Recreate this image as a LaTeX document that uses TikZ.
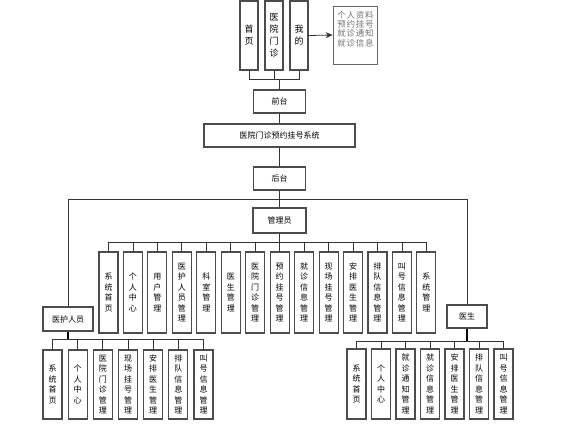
\documentclass[tikz,border=0pt]{standalone}
\usepackage{fontspec}
\setmainfont{Noto Sans CJK SC}
\usetikzlibrary{arrows.meta}
\begin{document}
\begin{tikzpicture}[x=1pt,y=-1pt,
  box/.style={draw=black!70, line width=1.1pt, inner sep=0pt, align=center,
    font=\fontsize{8}{10.5}\selectfont},
  topbox/.style={box, minimum width=18, minimum height=69,
    font=\fontsize{9}{12}\selectfont},
  hbox/.style={box, minimum height=23},
  vbox/.style={box, minimum width=19},
  ln/.style={draw=black!80, line width=0.8pt},
  boldln/.style={draw=black, line width=1.6pt}]
\useasboundingbox (0,0) rectangle (570,431);

% top row
\node[topbox] (home) at (249,35.5) {首\\页};
\node[topbox] (clinic) at (274,35.5) {医\\院\\门\\诊};
\node[topbox] (me) at (299,35.5) {我\\的};
\node[draw=black!60, line width=0.8pt, minimum width=44, minimum height=58, inner sep=0pt] (side) at (355,35) {};
\node[align=center, inner sep=0pt, text=black!55, font=\fontsize{8.5}{9.3}\selectfont\addfontfeature{LetterSpace=8}] (sidetxt) at (355.5,29) {个人资料\\预约挂号\\就诊通知\\就诊信息};
\draw[ln,-{Stealth[length=7pt,width=6pt]}] (me.east) -- (side.west);

\coordinate (tb) at (0,79);
\node[hbox, minimum width=52] (front) at (279.5,101.5) {前台};
\draw[ln] (home.south) -- (home.south |- tb) -- (me.south |- tb) -- (me.south);
\draw[ln] (clinic.south) -- (clinic.south |- tb);
\draw[ln] (front.north) -- (front.north |- tb);

\node[hbox, minimum width=151] (sys) at (279.5,135.5) {医院门诊预约挂号系统};
\node[hbox, minimum width=52] (back) at (279.5,178.5) {后台};
\draw[ln] (front) -- (sys);
\draw[ln] (sys) -- (back);

\coordinate (mb) at (0,199.5);
\node[box, minimum width=53, minimum height=25] (mgr) at (279.5,220.5) {管理员};
\node[box, minimum width=50, minimum height=24] (nurse) at (68,319) {医护人员};
\node[hbox, minimum width=40] (doc) at (467,316.5) {医生};
\draw[ln] (back.south) -- (mgr.north);
\draw[ln] (nurse.north) -- (nurse.north |- mb) -- (doc.north |- mb) -- (doc.north);

% admin children
\foreach \t [count=\i] in {{系\\统\\首\\页},{个\\人\\中\\心},{用\\户\\管\\理},{医\\护\\人\\员\\管\\理},{科\\室\\管\\理},{医\\生\\管\\理},{医\\院\\门\\诊\\管\\理},{预\\约\\挂\\号\\管\\理},{就\\诊\\信\\息\\管\\理},{现\\场\\挂\\号\\管\\理},{安\\排\\医\\生\\管\\理},{排\\队\\信\\息\\管\\理},{叫\\号\\信\\息\\管\\理},{系\\统\\管\\理}}
  \node[vbox, minimum height=81] (a\i) at ({108.5+24.45*(\i-1)},292.5) {\t};
\coordinate (ab) at (0,242);
\draw[ln] (mgr.south) -- (mgr.south |- ab);
\draw[ln] (a1.north |- ab) -- (a14.north |- ab);
\foreach \i in {1,...,14} \draw[ln] (a\i.north) -- (a\i.north |- ab);

% nurse children
\foreach \t [count=\i] in {{系\\统\\首\\页},{个\\人\\中\\心},{医\\院\\门\\诊\\管\\理},{现\\场\\挂\\号\\管\\理},{安\\排\\医\\生\\管\\理},{排\\队\\信\\息\\管\\理},{叫\\号\\信\\息\\管\\理}}
  \node[vbox, minimum height=69] (n\i) at ({52.5+25.17*(\i-1)},384.5) {\t};
\coordinate (nb) at (0,339);
\draw[boldln] (nurse.south) -- (nurse.south |- nb);
\draw[ln] (n1.north |- nb) -- (n7.north |- nb);
\foreach \i in {1,...,7} \draw[ln] (n\i.north) -- (n\i.north |- nb);

% doctor children
\foreach \t [count=\i] in {{系\\统\\首\\页},{个\\人\\中\\心},{就\\诊\\通\\知\\管\\理},{就\\诊\\信\\息\\管\\理},{安\\排\\医\\生\\管\\理},{排\\队\\信\\息\\管\\理},{叫\\号\\信\\息\\管\\理}}
  \node[vbox, minimum height=70] (d\i) at ({356.5+24.5*(\i-1)},384) {\t};
\coordinate (db) at (0,341);
\draw[boldln] (doc.south) -- (doc.south |- db);
\draw[ln] (d1.north |- db) -- (d7.north |- db);
\foreach \i in {1,...,7} \draw[ln] (d\i.north) -- (d\i.north |- db);
\end{tikzpicture}
\end{document}
